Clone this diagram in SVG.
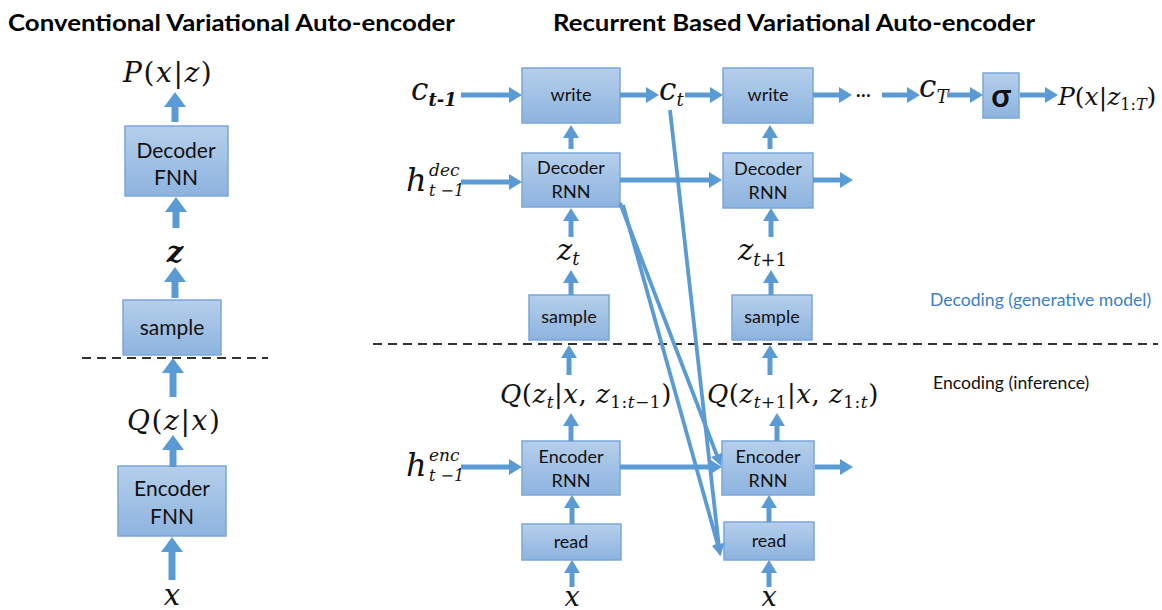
<svg xmlns="http://www.w3.org/2000/svg" width="1162" height="610" viewBox="0 0 1162 610">
<style>
.bx{fill:url(#g);stroke:#7aa7da;stroke-width:1.5}
.c{stroke:#5b9bd5;stroke-width:5;fill:none;marker-end:url(#ah)}
.cL{stroke:#5b9bd5;stroke-width:7;fill:none;marker-end:url(#ahL)}
.cD{stroke:#5b9bd5;stroke-width:3.8;fill:none;marker-end:url(#ahD)}
.t{font-family:Lato,"Liberation Sans",sans-serif;fill:#111;text-anchor:middle}
.tl{font-size:21px}
.tr{font-size:18px}
.m{font-family:"DejaVu Serif","Liberation Serif",serif;fill:#111}
.ls{letter-spacing:1.6px}
.ls2{letter-spacing:0.5px}
.i{font-style:italic}
.ttl{font-family:Lato,"Liberation Sans",sans-serif;font-weight:bold;font-size:22px;fill:#000}
.dash{stroke:#333;stroke-width:2;stroke-dasharray:9 6}
</style>
<defs>
<linearGradient id="g" x1="0" y1="0" x2="0" y2="1"><stop offset="0" stop-color="#b5cfeb"/><stop offset="1" stop-color="#8db3df"/></linearGradient>
<marker id="ah" viewBox="0 0 13 16" refX="5" refY="8" markerWidth="13" markerHeight="16" markerUnits="userSpaceOnUse" orient="auto"><path d="M0,0L13,8L0,16z" fill="#5b9bd5"/></marker>
<marker id="ahL" viewBox="0 0 15 22" refX="6" refY="11" markerWidth="15" markerHeight="22" markerUnits="userSpaceOnUse" orient="auto"><path d="M0,0L15,11L0,22z" fill="#5b9bd5"/></marker>
<marker id="ahD" viewBox="0 0 12 12" refX="4" refY="6" markerWidth="12" markerHeight="12" markerUnits="userSpaceOnUse" orient="auto"><path d="M0,0L12,6L0,12z" fill="#5b9bd5"/></marker>
</defs>
<rect width="1162" height="610" fill="#fff"/>

<text class="ttl" x="8" y="31" textLength="447" lengthAdjust="spacingAndGlyphs">Conventional Variational Auto-encoder</text>
<text class="ttl" x="553" y="31" textLength="482" lengthAdjust="spacingAndGlyphs">Recurrent Based Variational Auto-encoder</text>

<line class="dash" x1="82" y1="358" x2="268" y2="358"/>
<line class="dash" x1="373" y1="344" x2="1158" y2="344"/>

<text x="930" y="306" style="font-family:Lato,'Liberation Sans',sans-serif;font-size:17.6px;fill:#3b7fc4">Decoding (generative model)</text>
<text x="933" y="389" style="font-family:Lato,'Liberation Sans',sans-serif;font-size:17.6px;fill:#111">Encoding (inference)</text>

<!-- left nodes -->
<g id="dec-fnn"><rect class="bx" x="125" y="126" width="103" height="70"/><text class="t tl" x="176" y="158">Decoder</text><text class="t tl" x="176" y="185">FNN</text></g>
<g id="sample-l"><rect class="bx" x="123" y="300" width="98" height="55"/><text class="t tl" x="172" y="335">sample</text></g>
<g id="enc-fnn"><rect class="bx" x="118" y="466" width="108" height="70"/><text class="t tl" x="172" y="496">Encoder</text><text class="t tl" x="172" y="524">FNN</text></g>
<g id="lbl-pxz"><text class="m ls" x="123" y="82" font-size="28"><tspan class="i">P</tspan>(<tspan class="i">x</tspan>|<tspan class="i">z</tspan>)</text></g>
<g id="lbl-z"><text class="m i" x="175" y="262" font-size="29" font-weight="bold" text-anchor="middle">z</text></g>
<g id="lbl-qzx"><text class="m ls" x="127" y="430" font-size="28"><tspan class="i">Q</tspan>(<tspan class="i">z</tspan>|<tspan class="i">x</tspan>)</text></g>
<g id="lbl-x-l"><text class="m i" x="172" y="605" font-size="29" text-anchor="middle">x</text></g>

<!-- right nodes -->
<g id="write1"><rect class="bx" x="522" y="68" width="98" height="55"/><text class="t tr" x="571" y="101">write</text></g>
<g id="write2"><rect class="bx" x="723" y="68" width="90" height="55"/><text class="t tr" x="768" y="101">write</text></g>
<g id="sigma"><rect class="bx" x="983" y="73" width="36" height="45"/><text class="t" x="1001" y="107" font-size="32" font-weight="bold">σ</text></g>
<g id="dec-rnn1"><rect class="bx" x="522" y="153" width="98" height="54"/><text class="t tr" x="571" y="174">Decoder</text><text class="t tr" x="571" y="198">RNN</text></g>
<g id="dec-rnn2"><rect class="bx" x="723" y="153" width="90" height="55"/><text class="t tr" x="768" y="175">Decoder</text><text class="t tr" x="768" y="199">RNN</text></g>
<g id="sample1"><rect class="bx" x="529" y="295" width="80" height="45"/><text class="t tr" x="569" y="323">sample</text></g>
<g id="sample2"><rect class="bx" x="732" y="295" width="80" height="45"/><text class="t tr" x="772" y="323">sample</text></g>
<g id="enc-rnn1"><rect class="bx" x="522" y="441" width="98" height="54"/><text class="t tr" x="571" y="463">Encoder</text><text class="t tr" x="571" y="487">RNN</text></g>
<g id="enc-rnn2"><rect class="bx" x="722" y="441" width="92" height="54"/><text class="t tr" x="768" y="463">Encoder</text><text class="t tr" x="768" y="487">RNN</text></g>
<g id="read1"><rect class="bx" x="522" y="524" width="99" height="36"/><text class="t tr" x="571" y="548">read</text></g>
<g id="read2"><rect class="bx" x="724" y="522" width="90" height="38"/><text class="t tr" x="769" y="547">read</text></g>

<g id="lbl-ctm1"><text class="m i" x="411" y="100" font-size="31">c<tspan font-size="18" font-weight="bold" dy="6">t-1</tspan></text></g>
<g id="lbl-ct"><text class="m i" x="659" y="100" font-size="31">c<tspan font-size="18" dy="6">t</tspan></text></g>
<g id="lbl-dots"><text x="856" y="97" style="font-family:Lato,sans-serif;font-size:19px;font-weight:bold;fill:#111">…</text></g>
<g id="lbl-cT"><text class="m i" x="919" y="97" font-size="31">c<tspan font-size="18" dy="6">T</tspan></text></g>
<g id="lbl-pxz1T"><text class="m" x="1058" y="105" font-size="25"><tspan class="i">P</tspan>(<tspan class="i">x</tspan>|<tspan class="i">z</tspan><tspan font-size="16" dy="5">1:<tspan class="i">T</tspan></tspan><tspan dy="-5">)</tspan></text></g>
<g id="lbl-hdec"><text class="m i" x="406" y="191" font-size="32">h</text><text class="m i" x="429" y="176" font-size="17">dec</text><text class="m i" x="429" y="196" font-size="16">t −1</text></g>
<g id="lbl-zt"><text class="m i" x="557" y="260" font-size="29">z<tspan font-size="18" dy="5">t</tspan></text></g>
<g id="lbl-zt1"><text class="m i" x="738" y="260" font-size="29">z<tspan font-size="18" dy="6">t<tspan font-style="normal">+1</tspan></tspan></text></g>
<g id="lbl-q1"><text class="m ls2" x="500" y="403" font-size="26"><tspan class="i">Q</tspan>(<tspan class="i">z</tspan><tspan class="i" font-size="17" dy="5">t</tspan><tspan dy="-5">|</tspan><tspan class="i">x</tspan>, <tspan class="i">z</tspan><tspan font-size="17" dy="5">1:<tspan class="i">t</tspan>−1</tspan><tspan dy="-5">)</tspan></text></g>
<g id="lbl-q2"><text class="m ls2" x="707" y="403" font-size="26"><tspan class="i">Q</tspan>(<tspan class="i">z</tspan><tspan font-size="17" dy="5"><tspan class="i">t</tspan>+1</tspan><tspan dy="-5">|</tspan><tspan class="i">x</tspan>, <tspan class="i">z</tspan><tspan font-size="17" dy="5">1:<tspan class="i">t</tspan></tspan><tspan dy="-5">)</tspan></text></g>
<g id="lbl-henc"><text class="m i" x="406" y="476" font-size="32">h</text><text class="m i" x="429" y="461" font-size="17">enc</text><text class="m i" x="429" y="481" font-size="16">t −1</text></g>
<g id="lbl-x1"><text class="m i" x="572" y="606" font-size="27" text-anchor="middle">x</text></g>
<g id="lbl-x2"><text class="m i" x="769" y="606" font-size="27" text-anchor="middle">x</text></g>

<g id="connectors">
<line class="cL" x1="175" y1="122" x2="175" y2="101"/>
<line class="cL" x1="176" y1="228" x2="176" y2="206"/>
<line class="cL" x1="175" y1="298" x2="175" y2="276"/>
<line class="cL" x1="173" y1="397" x2="173" y2="367"/>
<line class="cL" x1="173" y1="467" x2="173" y2="444"/>
<line class="cL" x1="172" y1="580" x2="172" y2="546"/>

<line class="c" x1="461" y1="95" x2="514" y2="95"/>
<line class="c" x1="620" y1="95" x2="651" y2="95"/>
<line class="c" x1="685" y1="95" x2="715" y2="95"/>
<line class="c" x1="813" y1="95" x2="844" y2="95"/>
<line class="c" x1="882" y1="95" x2="912" y2="95"/>
<line class="c" x1="947" y1="95" x2="975" y2="95"/>
<line class="c" x1="1020" y1="95" x2="1050" y2="95"/>
<line class="c" x1="461" y1="182" x2="514" y2="182"/>
<line class="c" x1="620" y1="180" x2="714" y2="180"/>
<line class="c" x1="813" y1="180" x2="845" y2="180"/>
<line class="c" x1="461" y1="467" x2="514" y2="467"/>
<line class="c" x1="620" y1="467" x2="714" y2="467"/>
<line class="c" x1="815" y1="467" x2="845" y2="467"/>

<line class="c" x1="571" y1="149" x2="571" y2="133"/>
<line class="c" x1="571" y1="237" x2="571" y2="216"/>
<line class="c" x1="571" y1="295" x2="571" y2="278"/>
<line class="c" x1="569" y1="375" x2="569" y2="353"/>
<line class="c" x1="571" y1="441" x2="571" y2="421"/>
<line class="c" x1="572" y1="524" x2="572" y2="503"/>
<line class="c" x1="572" y1="587" x2="572" y2="568"/>

<line class="c" x1="770" y1="149" x2="770" y2="133"/>
<line class="c" x1="771" y1="237" x2="771" y2="216"/>
<line class="c" x1="771" y1="295" x2="771" y2="278"/>
<line class="c" x1="770" y1="375" x2="770" y2="353"/>
<line class="c" x1="777" y1="441" x2="777" y2="421"/>
<line class="c" x1="769" y1="522" x2="769" y2="503"/>
<line class="c" x1="769" y1="587" x2="769" y2="568"/>

<line class="cD" x1="620" y1="203" x2="718.1" y2="458.5"/>
<line class="cD" x1="623" y1="205" x2="718.8" y2="548.3"/>
<line class="cD" x1="670" y1="110" x2="719.1" y2="548"/>
</g>
</svg>
